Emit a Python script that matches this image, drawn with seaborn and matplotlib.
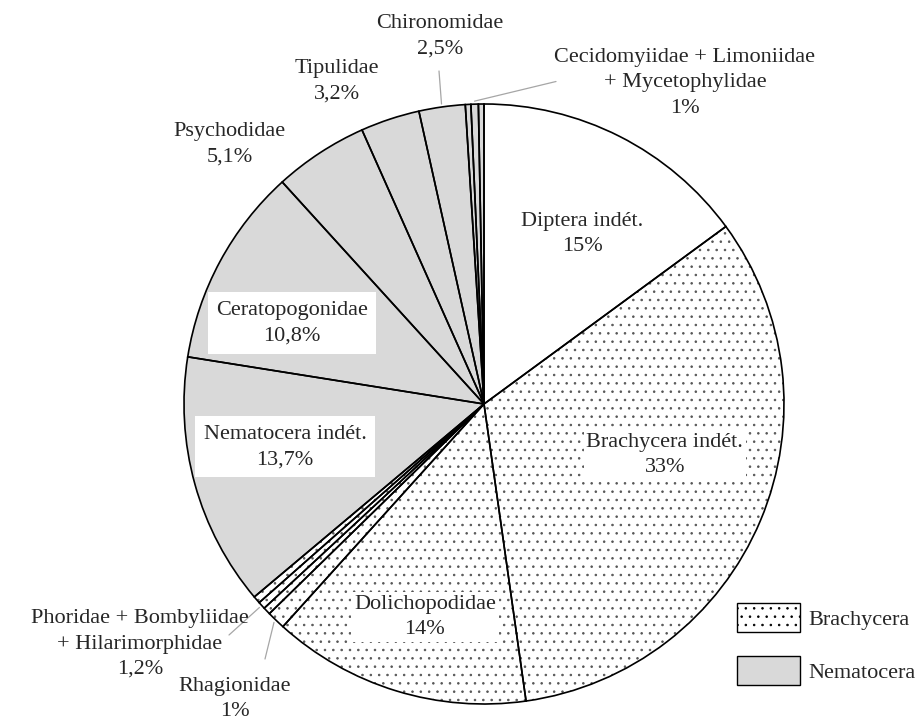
import matplotlib
matplotlib.use("Agg")
import matplotlib.pyplot as plt
import matplotlib.patches as mpatches
import numpy as np
import seaborn as sns

# ---------------------------------------------------------------------------
# Data (clockwise from 12 o'clock)
# ---------------------------------------------------------------------------
taxa = [
    "Diptera indét.", "Brachycera indét.", "Dolichopodidae", "Rhagionidae",
    "Phoridae", "Bombyliidae", "Hilarimorphidae",
    "Nematocera indét.", "Ceratopogonidae", "Psychodidae", "Tipulidae",
    "Chironomidae", "Cecidomyiidae", "Limoniidae", "Mycetophylidae",
]
shares = [15, 33, 14, 1, 0.4, 0.4, 0.4, 13.7, 10.8, 5.1, 3.2, 2.5, 0.3, 0.4, 0.3]
suborder = ["none", "Brachycera", "Brachycera", "Brachycera",
            "Brachycera", "Brachycera", "Brachycera",
            "Nematocera", "Nematocera", "Nematocera", "Nematocera",
            "Nematocera", "Nematocera", "Nematocera", "Nematocera"]
legend_labels = ["Brachycera", "Nematocera"]

# ---------------------------------------------------------------------------
# Style
# ---------------------------------------------------------------------------
GREY = "#d9d9d9"
DOTS = "#555555"
LEADER = "#a6a6a6"
FS = 16

sns.set_theme(style="white")
plt.rcParams["font.family"] = ["Liberation Serif", "DejaVu Serif"]
plt.rcParams["hatch.linewidth"] = 0.6

fig = plt.figure(figsize=(9.2, 7.2), dpi=100)
cx, cy, r = 484, 404, 300
ax = fig.add_axes([(cx - r) / 920, (720 - cy - r) / 720, 2 * r / 920, 2 * r / 720])

# fill layer (stipple in grey), then outline layer in black
fills, _ = ax.pie(shares, startangle=90, counterclock=False, radius=1,
                  wedgeprops={"linewidth": 0})
for w, grp in zip(fills, suborder):
    w.set_edgecolor(DOTS)
    w.set_linewidth(0)
    if grp == "Brachycera":
        w.set_facecolor("white")
        w.set_hatch("..")
    elif grp == "Nematocera":
        w.set_facecolor(GREY)
    else:
        w.set_facecolor("white")

wedges, _ = ax.pie(shares, startangle=90, counterclock=False, radius=1,
                   wedgeprops={"facecolor": "none", "edgecolor": "black",
                               "linewidth": 1.2})

ax.set_xlim(-1, 1)
ax.set_ylim(-1, 1)
ax.set_aspect("equal")
ax.axis("off")

# ---------------------------------------------------------------------------
# Labels
# ---------------------------------------------------------------------------
box = {"facecolor": "white", "edgecolor": "none", "pad": 2}
bigbox = {"facecolor": "white", "edgecolor": "none", "pad": 6}
labels = [
    ("Diptera indét.\n15%", (0.327, 0.567), None),
    ("Brachycera indét.\n33%", (0.603, -0.17), box),
    ("Dolichopodidae\n14%", (-0.197, -0.71), box),
    ("Nematocera indét.\n13,7%", (-0.663, -0.143), bigbox),
    ("Ceratopogonidae\n10,8%", (-0.64, 0.27), bigbox),
    ("Psychodidae\n5,1%", (-0.847, 0.867), None),
    ("Tipulidae\n3,2%", (-0.49, 1.075), None),
    ("Chironomidae\n2,5%", (-0.147, 1.227), None),
    ("Cecidomyiidae + Limoniidae\n+ Mycetophylidae\n1%", (0.67, 1.07), None),
    ("Phoridae + Bombyliidae\n+ Hilarimorphidae\n1,2%", (-1.147, -0.80), None),
    ("Rhagionidae\n1%", (-0.83, -0.983), None),
]
for txt, (x, y), bb in labels:
    ax.text(x, y, txt, ha="center", va="center", fontsize=FS,
            linespacing=1.45, bbox=bb, zorder=5)


def mid_angle(names):
    idx = [taxa.index(n) for n in names]
    t1 = min(wedges[i].theta1 for i in idx)
    t2 = max(wedges[i].theta2 for i in idx)
    return np.deg2rad((t1 + t2) / 2)


leaders = [
    (["Chironomidae"], (-0.15, 1.11)),
    (["Cecidomyiidae", "Limoniidae", "Mycetophylidae"], (0.24, 1.075)),
    (["Phoridae", "Bombyliidae", "Hilarimorphidae"], (-0.85, -0.77)),
    (["Rhagionidae"], (-0.73, -0.85)),
]
for names, (ex, ey) in leaders:
    a = mid_angle(names)
    ax.plot([1.01 * np.cos(a), ex], [1.01 * np.sin(a), ey],
            color=LEADER, linewidth=0.9, clip_on=False)

# ---------------------------------------------------------------------------
# Legend
# ---------------------------------------------------------------------------
handles = [
    mpatches.Patch(facecolor="white", edgecolor="black", hatch="..", linewidth=1.0),
    mpatches.Patch(facecolor=GREY, edgecolor="black", linewidth=1.0),
]
fig.legend(handles, legend_labels, loc="upper left",
           bbox_to_anchor=(737 / 920, 1 - 603 / 720), bbox_transform=fig.transFigure,
           frameon=False, fontsize=FS, handlelength=2.85, handleheight=1.62,
           handletextpad=0.36, labelspacing=1.1, borderpad=0, borderaxespad=0)

fig.savefig("out.png", dpi=100)
